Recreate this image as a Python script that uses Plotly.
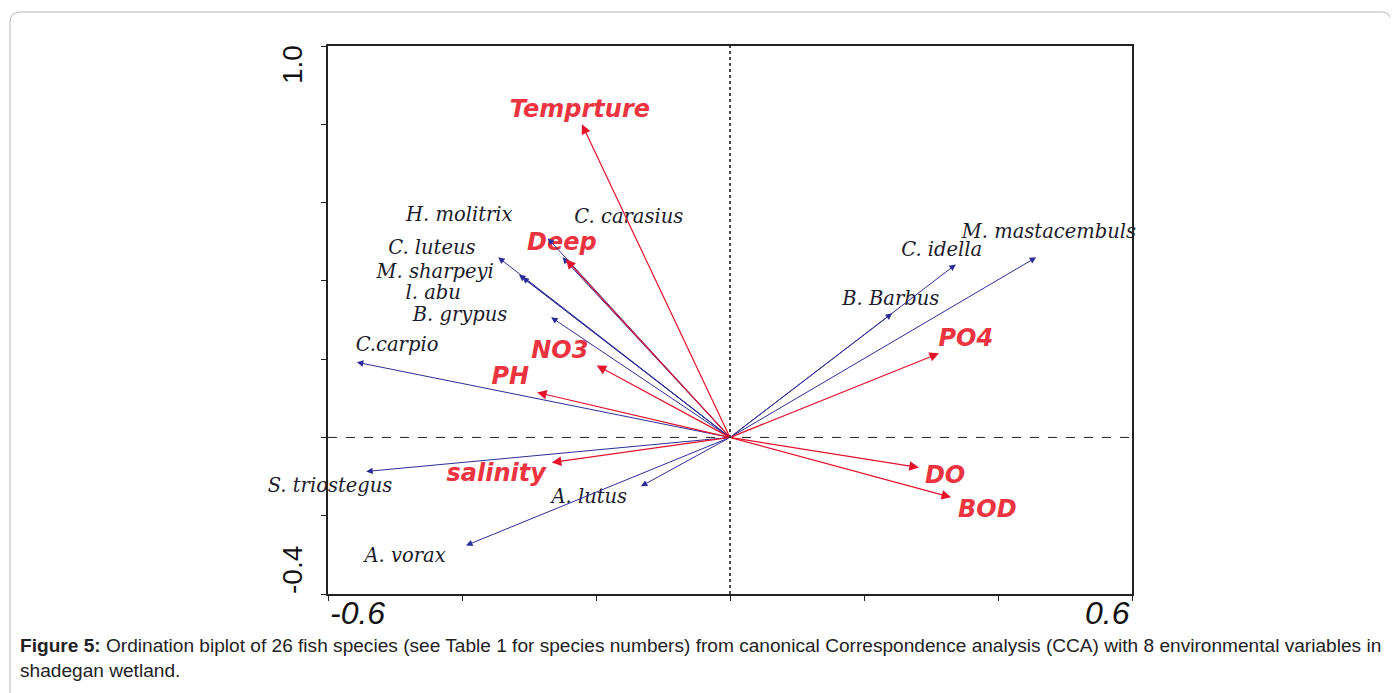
import plotly.graph_objects as go

# ---------------- data ----------------
species = ["H. molitrix", "C. carasius", "C. luteus", "M. sharpeyi", "l. abu",
           "B. grypus", "C.carpio", "S. triostegus", "A. lutus", "A. vorax",
           "M. mastacembuls", "C. idella", "B. Barbus"]
species_x = [-0.272, -0.250, -0.346, -0.310, -0.315, -0.267, -0.557, -0.543,
             -0.133, -0.394, 0.457, 0.337, 0.242]
species_y = [0.509, 0.460, 0.460, 0.409, 0.416, 0.307, 0.192, -0.087,
             -0.125, -0.276, 0.460, 0.442, 0.317]

env_vars = ["Temprture", "Deep", "NO3", "PH", "salinity", "PO4", "DO", "BOD"]
env_x = [-0.221, -0.245, -0.199, -0.288, -0.266, 0.312, 0.282, 0.330]
env_y = [0.800, 0.455, 0.184, 0.115, -0.064, 0.215, -0.077, -0.153]

x_tick_vals = [-0.6, -0.4, -0.2, 0.0, 0.2, 0.4, 0.6]
y_tick_vals = [-0.4, -0.2, 0.0, 0.2, 0.4, 0.6, 0.8, 1.0]
x_tick_labels = {-0.6: "-0.6", 0.6: "0.6"}
y_tick_labels = {-0.4: "-0.4", 1.0: "1.0"}

caption_bold = "Figure 5:"
caption_text = (" Ordination biplot of 26 fish species (see Table 1 for species numbers) from canonical "
                "Correspondence analysis (CCA) with 8 environmental variables in<br>shadegan wetland.")

# ---------------- label placement (layout) ----------------
species_label_pos = {
    "H. molitrix": (-0.404, 0.565), "C. carasius": (-0.151, 0.560),
    "C. luteus": (-0.445, 0.480), "M. sharpeyi": (-0.440, 0.419),
    "l. abu": (-0.443, 0.366), "B. grypus": (-0.403, 0.311),
    "C.carpio": (-0.497, 0.233), "S. triostegus": (-0.597, -0.128),
    "A. lutus": (-0.210, -0.156), "A. vorax": (-0.485, -0.307),
    "M. mastacembuls": (0.476, 0.522), "C. idella": (0.316, 0.476),
    "B. Barbus": (0.240, 0.350),
}
env_label_pos = {
    "Temprture": (-0.224, 0.835), "Deep": (-0.251, 0.494), "NO3": (-0.254, 0.217),
    "PH": (-0.328, 0.153), "salinity": (-0.349, -0.095), "PO4": (0.352, 0.248),
    "DO": (0.321, -0.102), "BOD": (0.384, -0.187),
}

SP_COLOR = "#2c2c98"
ENV_COLOR = "#e5122c"
ENV_TEXT = "#ec3340"

fig = go.Figure()

# species labels
fig.add_trace(go.Scatter(
    x=[species_label_pos[s][0] for s in species],
    y=[species_label_pos[s][1] for s in species],
    mode="text", text=species, hoverinfo="skip",
    textfont=dict(family="DejaVu Serif", size=19.5, color="#1b1b2a", style="italic"),
    showlegend=False, cliponaxis=False))

# env labels
fig.add_trace(go.Scatter(
    x=[env_label_pos[e][0] for e in env_vars],
    y=[env_label_pos[e][1] for e in env_vars],
    mode="text", text=env_vars, hoverinfo="skip",
    textfont=dict(family="DejaVu Sans", size=24, color=ENV_TEXT, style="italic", weight="bold"),
    showlegend=False, cliponaxis=False))

annotations = []
# species arrows
for sx, sy in zip(species_x, species_y):
    annotations.append(dict(x=sx, y=sy, ax=0, ay=0, xref="x", yref="y", axref="x", ayref="y",
                            text="", showarrow=True, arrowhead=2, arrowsize=1.3, arrowwidth=1,
                            arrowcolor=SP_COLOR, standoff=0, startstandoff=0))
# env arrows
for ex, ey in zip(env_x, env_y):
    annotations.append(dict(x=ex, y=ey, ax=0, ay=0, xref="x", yref="y", axref="x", ayref="y",
                            text="", showarrow=True, arrowhead=2, arrowsize=1.6, arrowwidth=1.2,
                            arrowcolor=ENV_COLOR, standoff=0, startstandoff=0))

# tick labels (placed inside the tick range, as in the original)
for v, t in x_tick_labels.items():
    annotations.append(dict(x=v, y=0, xref="x", yref="paper", text=t, showarrow=False,
                            xanchor="left" if v < 0 else "right", yanchor="middle", yshift=-19,
                            font=dict(family="Liberation Sans", size=32, color="#111", style="italic")))
for v, t in y_tick_labels.items():
    annotations.append(dict(x=0, y=v, xref="paper", yref="y", text=t, showarrow=False,
                            textangle=-90, xanchor="center", yanchor="middle", xshift=-36,
                            yshift=-19 if v > 0 else 24,
                            font=dict(family="Liberation Sans", size=28, color="#111")))

# caption
annotations.append(dict(x=-0.385, y=-0.072, xref="paper", yref="paper", xanchor="left", yanchor="top",
                        align="left", showarrow=False,
                        text="<b>" + caption_bold + "</b>" + caption_text,
                        font=dict(family="Liberation Sans", size=19.1, color="#222")))

# rounded border around figure (paper coords derived from pixel layout)
def X(px):
    return (px - 328) / 804.0
def Y(py):
    return (594 - py) / 548.0
r = 10
L, R, T, B = 10, 1391, 12, 720
path = (f"M {X(L+r)},{Y(T)} L {X(R-r)},{Y(T)} Q {X(R)},{Y(T)} {X(R)},{Y(T+r)} "
        f"L {X(R)},{Y(B)} L {X(L)},{Y(B)} L {X(L)},{Y(T+r)} Q {X(L)},{Y(T)} {X(L+r)},{Y(T)} Z")

shapes = [
    dict(type="path", path=path, xref="paper", yref="paper",
         line=dict(color="#b5b5b5", width=1), layer="below"),
    dict(type="line", x0=0, x1=0, y0=-0.4, y1=1.0, xref="x", yref="y",
         line=dict(color="#111", width=1.5, dash="dot"), layer="below"),
    dict(type="line", x0=-0.6, x1=0.6, y0=0, y1=0, xref="x", yref="y",
         line=dict(color="#222", width=1, dash="dash"), layer="below"),
]

fig.update_layout(
    width=1398, height=693,
    margin=dict(l=320, r=274, t=38, b=107),
    paper_bgcolor="white", plot_bgcolor="white",
    annotations=annotations, shapes=shapes,
    showlegend=False,
)
fig.update_xaxes(range=[-0.6, 0.6], tickvals=x_tick_vals, ticktext=[""] * len(x_tick_vals),
                 ticks="outside", ticklen=5, tickcolor="#222", showgrid=False, zeroline=False,
                 showline=True, linecolor="#222", linewidth=2, mirror=True)
fig.update_yaxes(range=[-0.4, 1.0], tickvals=y_tick_vals, ticktext=[""] * len(y_tick_vals),
                 ticks="outside", ticklen=5, tickcolor="#222", showgrid=False, zeroline=False,
                 showline=True, linecolor="#222", linewidth=2, mirror=True)

fig.write_html("out.html")
